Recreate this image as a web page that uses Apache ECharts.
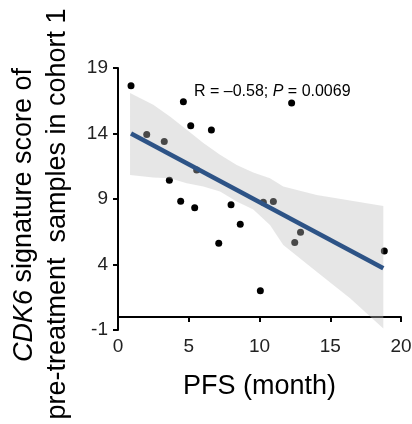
<!DOCTYPE html>
<html><head><meta charset="utf-8">
<script src="https://cdn.jsdelivr.net/npm/echarts@6/dist/echarts.min.js"></script>
<style>html,body{margin:0;padding:0;background:#fff}#c{width:412px;height:424px}</style>
</head><body><div id="c"></div>
<script>
// Scatter points: PFS (month) vs CDK6 signature score
const pfs   = [0.92, 2.03, 3.27, 3.63, 4.43, 4.62, 5.14, 5.42, 5.56, 6.60, 7.12, 7.99, 8.64, 10.06, 10.27, 10.98, 12.27, 12.49, 12.90, 18.82];
const score = [17.65, 13.93, 13.39, 10.44, 8.83, 16.42, 14.59, 8.34, 11.22, 14.26, 5.62, 8.57, 7.07, 2.0, 8.75, 8.80, 16.32, 5.67, 6.46, 5.03];
// Regression line endpoints
const fitX = [0.92, 18.75];
const fitY = [14.0, 3.71];
// Confidence band
const bandX     = [0.85, 2.49, 3.67, 4.86, 6.03, 7.21, 8.39, 9.56, 10.74, 11.68, 14.04, 16.40, 18.75];
const bandUpper = [17.09, 16.19, 15.30, 14.28, 13.27, 12.37, 11.60, 11.02, 10.59, 9.95, 9.31, 8.88, 8.47];
const bandLower = [10.84, 10.64, 10.59, 10.21, 9.95, 9.57, 8.80, 8.20, 7.02, 5.49, 3.45, 1.42, -0.88];
const xTicks = [0, 5, 10, 15, 20];
const yTicks = [-1, 4, 9, 14, 19];

const chart = echarts.init(document.getElementById('c'), null, {renderer: 'canvas'});
const FONT = 'Liberation Sans, Arial, sans-serif';
const bandData = bandX.map((x, i) => [x, bandUpper[i], bandLower[i]]);

chart.setOption({
  animation: false,
  backgroundColor: '#fff',
  grid: {left: 118, right: 11, top: 68, bottom: 94, containLabel: false, outerBoundsMode: 'none'},
  xAxis: {
    type: 'value', min: 0, max: 20, interval: 5,
    name: 'PFS (month)', nameLocation: 'middle', nameGap: 43,
    nameTextStyle: {fontFamily: FONT, fontSize: 27, color: '#000'},
    axisLine: {show: true, lineStyle: {color: '#000', width: 2}},
    axisTick: {show: true, length: 5, lineStyle: {color: '#000', width: 2}},
    axisLabel: {fontFamily: FONT, fontSize: 19, color: '#222', margin: 7,
      formatter: v => xTicks.includes(v) ? String(v) : ''},
    splitLine: {show: false}
  },
  yAxis: {
    type: 'value', min: -1, max: 19, interval: 5,
    name: '{i|CDK6}{a| signature score of}\n{b|pre-treatment  samples in cohort 1}',
    nameLocation: 'middle', nameGap: 43, nameRotate: 90,
    nameTextStyle: {fontFamily: FONT, fontSize: 27, color: '#000', lineHeight: 34,
      rich: {
        i: {fontFamily: FONT, fontSize: 27, fontStyle: 'italic', color: '#000', lineHeight: 34},
        a: {fontFamily: FONT, fontSize: 27, color: '#000', lineHeight: 34, padding: [0, 32, 0, 0]},
        b: {fontFamily: FONT, fontSize: 27, color: '#000', lineHeight: 34, padding: [0, 30, 0, 0]}
      }},
    axisLine: {show: true, lineStyle: {color: '#000', width: 2}},
    axisTick: {show: true, length: 5, lineStyle: {color: '#000', width: 2}},
    axisLabel: {fontFamily: FONT, fontSize: 19, color: '#222', margin: 10,
      formatter: v => yTicks.includes(v) ? String(v) : ''},
    splitLine: {show: false}
  },
  series: [
    {
      type: 'scatter', z: 2,
      data: pfs.map((x, i) => [x, score[i]]),
      symbolSize: 7,
      itemStyle: {color: '#000', opacity: 1}
    },
    {
      type: 'custom', z: 3,
      data: bandData,
      encode: {x: 0, y: [1, 2]},
      renderItem: function (params, api) {
        if (params.dataIndex !== 0) return null;
        const up = [], lo = [];
        for (let i = 0; i < bandData.length; i++) {
          up.push(api.coord([bandData[i][0], bandData[i][1]]));
          lo.push(api.coord([bandData[i][0], bandData[i][2]]));
        }
        const pts = up.concat(lo.reverse());
        return {
          type: 'polygon',
          shape: {points: pts},
          style: {fill: 'rgba(190,190,190,0.38)', stroke: null}
        };
      }
    },
    {
      type: 'line', z: 4,
      data: fitX.map((x, i) => [x, fitY[i]]),
      symbol: 'none',
      lineStyle: {color: '#2d5386', width: 4.5}
    }
  ],
  graphic: [{
    type: 'text', left: 194, top: 84, z: 10,
    style: {
      text: 'R = \u20130.58; {i|P} = 0.0069',
      font: '16px ' + FONT, fill: '#000',
      rich: {i: {fontStyle: 'italic', fontSize: 16, fontFamily: FONT, fill: '#000'}}
    }
  }]
});
</script></body></html>
